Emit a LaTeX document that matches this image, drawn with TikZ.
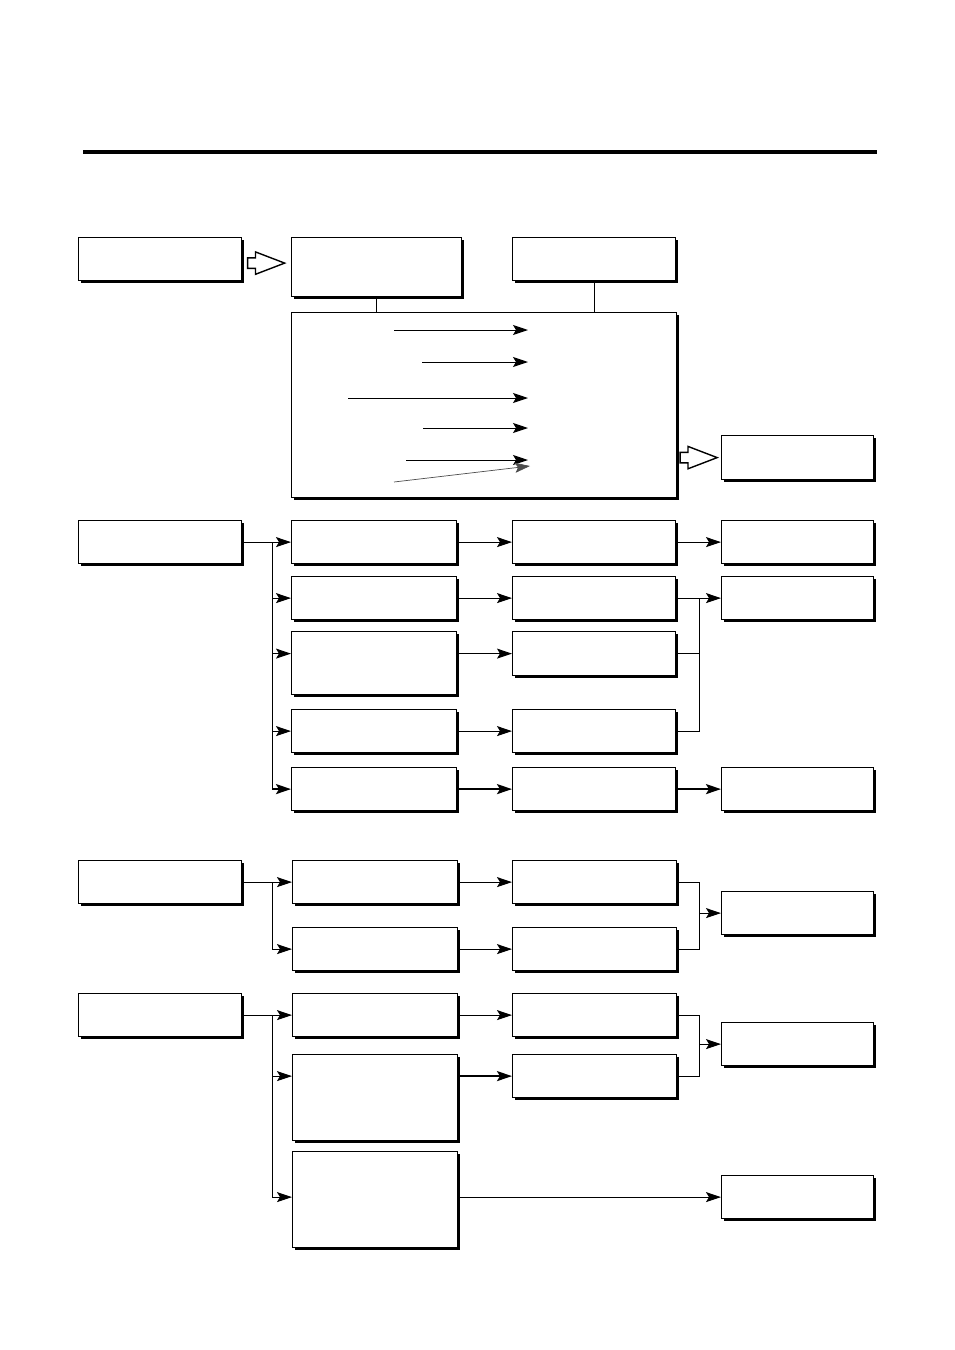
\documentclass[tikz,border=0pt]{standalone}
\usetikzlibrary{arrows.meta,positioning,shadows,shapes.arrows,calc}
\definecolor{shadowblack}{HTML}{000000}
\definecolor{linethin}{HTML}{4D4D4D}

\begin{document}
\begin{tikzpicture}[
  x=0.5pt, y=-0.5pt,
  box/.style={
    draw=black,
    fill=white,
    line width=0.6pt,
    inner sep=0pt,
    anchor=north west,
    minimum height=21.5pt,
    drop shadow={shadow xshift=1.4pt, shadow yshift=-1.4pt, fill=shadowblack, opacity=1}
  },
  wide/.style={minimum width=81.5pt},
  mid/.style={minimum width=82.5pt},
  narrow/.style={minimum width=76pt},
  push/.style={
    single arrow,
    draw=black,
    fill=white,
    line width=0.7pt,
    inner xsep=0pt,
    inner ysep=2.25pt,
    single arrow head extend=3pt,
    single arrow tip angle=42,
    minimum height=18.5pt,
    anchor=tip
  },
  arrow/.style={-{Stealth[length=7.5pt,width=5pt,inset=1.5pt]}, line width=0.5pt},
  heavy/.style={arrow, line width=1pt},
  link/.style={line width=0.5pt}
]

\useasboundingbox (0,0) rectangle (954,1350);

% header rule
\draw[line width=2pt] (83,152) -- (877,152);

% top block
\node[box, wide] (intake) at (78,237) {};
\node[box, minimum width=85pt, minimum height=29.5pt] (stage) at (291,237) {};
\node[box, wide] (monitor) at (512,237) {};
\node[box, minimum width=192.5pt, minimum height=92.5pt] (panel) at (291,312) {};
\node[box, narrow, minimum height=22pt] (alert) at (721,435) {};

\node[push] (pushA) at ($(intake.east)!0.5!(stage.west) + (20,0)$) {};
\node[push] (pushB) at ($(panel.east |- alert.west)!0.5!(alert.west) + (20,0)$) {};

\draw[link] (stage.south) -- (stage.south |- panel.north);
\draw[link] (monitor.south) -- (monitor.south |- panel.north);

\foreach \n/\xs/\yy in {1/394/330, 2/422/362, 3/348/398, 4/423/428, 5/406/460} {
  \coordinate (tail\n) at (\xs,\yy);
  \coordinate (tip\n) at (528,\yy);
  \draw[arrow] (tail\n) -- (tip\n);
}
\coordinate (tail6) at (394,482);
\coordinate (tip6) at (530,466);
\draw[arrow, draw=linethin, line width=0.35pt] (tail6) -- (tip6);

% second block
\node[box, wide] (groupA) at (78,520) {};
\node[box, mid] (a1) at (291,520) {};
\node[box, mid] (a2) at (291,576) {};
\node[box, mid, minimum height=31.5pt] (a3) at (291,631) {};
\node[box, mid] (a4) at (291,709) {};
\node[box, mid] (a5) at (291,767) {};
\node[box, wide] (b1) at (512,520) {};
\node[box, wide] (b2) at (512,576) {};
\node[box, wide, minimum height=22pt] (b3) at (512,631) {};
\node[box, wide] (b4) at (512,709) {};
\node[box, wide] (b5) at (512,767) {};
\node[box, narrow] (c1) at (721,520) {};
\node[box, narrow] (c2) at (721,576) {};
\node[box, narrow] (c5) at (721,767) {};

\coordinate (busA) at ($(groupA.east)+(30,0)$);
\draw[arrow] (groupA.east) -- (a1.west);
\draw[link] (busA) -- (busA |- a5.west);
\draw[arrow] (busA |- a2.west) -- (a2.west);
\draw[arrow] (busA |- b3.west) -- (b3.west -| a3.west);
\draw[arrow] (busA |- a4.west) -- (a4.west);
\draw[heavy] (busA |- a5.west) -- (a5.west);

\draw[arrow] (a1.east) -- (b1.west);
\draw[arrow] (a2.east) -- (b2.west);
\draw[arrow] (a3.east |- b3.west) -- (b3.west);
\draw[arrow] (a4.east) -- (b4.west);
\draw[heavy] (a5.east) -- (b5.west);

\draw[arrow] (b1.east) -- (c1.west);
\coordinate (joinA) at ($(b2.east)+(23,0)$);
\draw[arrow] (b2.east) -- (c2.west);
\draw[link] (b3.east) -- (b3.east -| joinA);
\draw[link] (b4.east) -| (joinA);
\draw[heavy] (b5.east) -- (c5.west);

% third block
\node[box, wide] (groupB) at (78,860) {};
\node[box, mid] (d1) at (292,860) {};
\node[box, mid] (d2) at (292,927) {};
\node[box, minimum width=82pt] (e1) at (512,860) {};
\node[box, minimum width=82pt] (e2) at (512,927) {};
\node[box, narrow] (f1) at (721,891) {};

\coordinate (busB) at ($(groupB.east)+(30,0)$);
\draw[arrow] (groupB.east) -- (d1.west);
\draw[arrow] (busB) |- (d2.west);
\draw[arrow] (d1.east) -- (e1.west);
\draw[arrow] (d2.east) -- (e2.west);
\coordinate (joinB) at ($(e1.east)+(22,0)$);
\draw[link] (e1.east) -- (joinB) |- (e2.east);
\draw[arrow] (joinB |- f1.west) -- (f1.west);

% fourth block
\node[box, wide] (groupC) at (78,993) {};
\node[box, mid] (g1) at (292,993) {};
\node[box, mid, minimum height=43pt] (g2) at (292,1054) {};
\node[box, mid, minimum height=48pt] (g3) at (292,1151) {};
\node[box, minimum width=82pt] (h1) at (512,993) {};
\node[box, minimum width=82pt] (h2) at (512,1054) {};
\node[box, narrow] (k1) at (721,1022) {};
\node[box, narrow] (k3) at (721,1175) {};

\coordinate (busC) at ($(groupC.east)+(30,0)$);
\draw[arrow] (groupC.east) -- (g1.west);
\draw[arrow] (busC) |- (k3.west -| g3.west);
\draw[arrow] (busC |- h2.west) -- (h2.west -| g2.west);
\draw[arrow] (g1.east) -- (h1.west);
\draw[heavy] (g2.east |- h2.west) -- (h2.west);
\coordinate (joinC) at ($(h1.east)+(22,0)$);
\draw[link] (h1.east) -- (joinC) |- (h2.east);
\draw[arrow] (joinC |- k1.west) -- (k1.west);
\draw[arrow] (g3.east |- k3.west) -- (k3.west);

\end{tikzpicture}
\end{document}
